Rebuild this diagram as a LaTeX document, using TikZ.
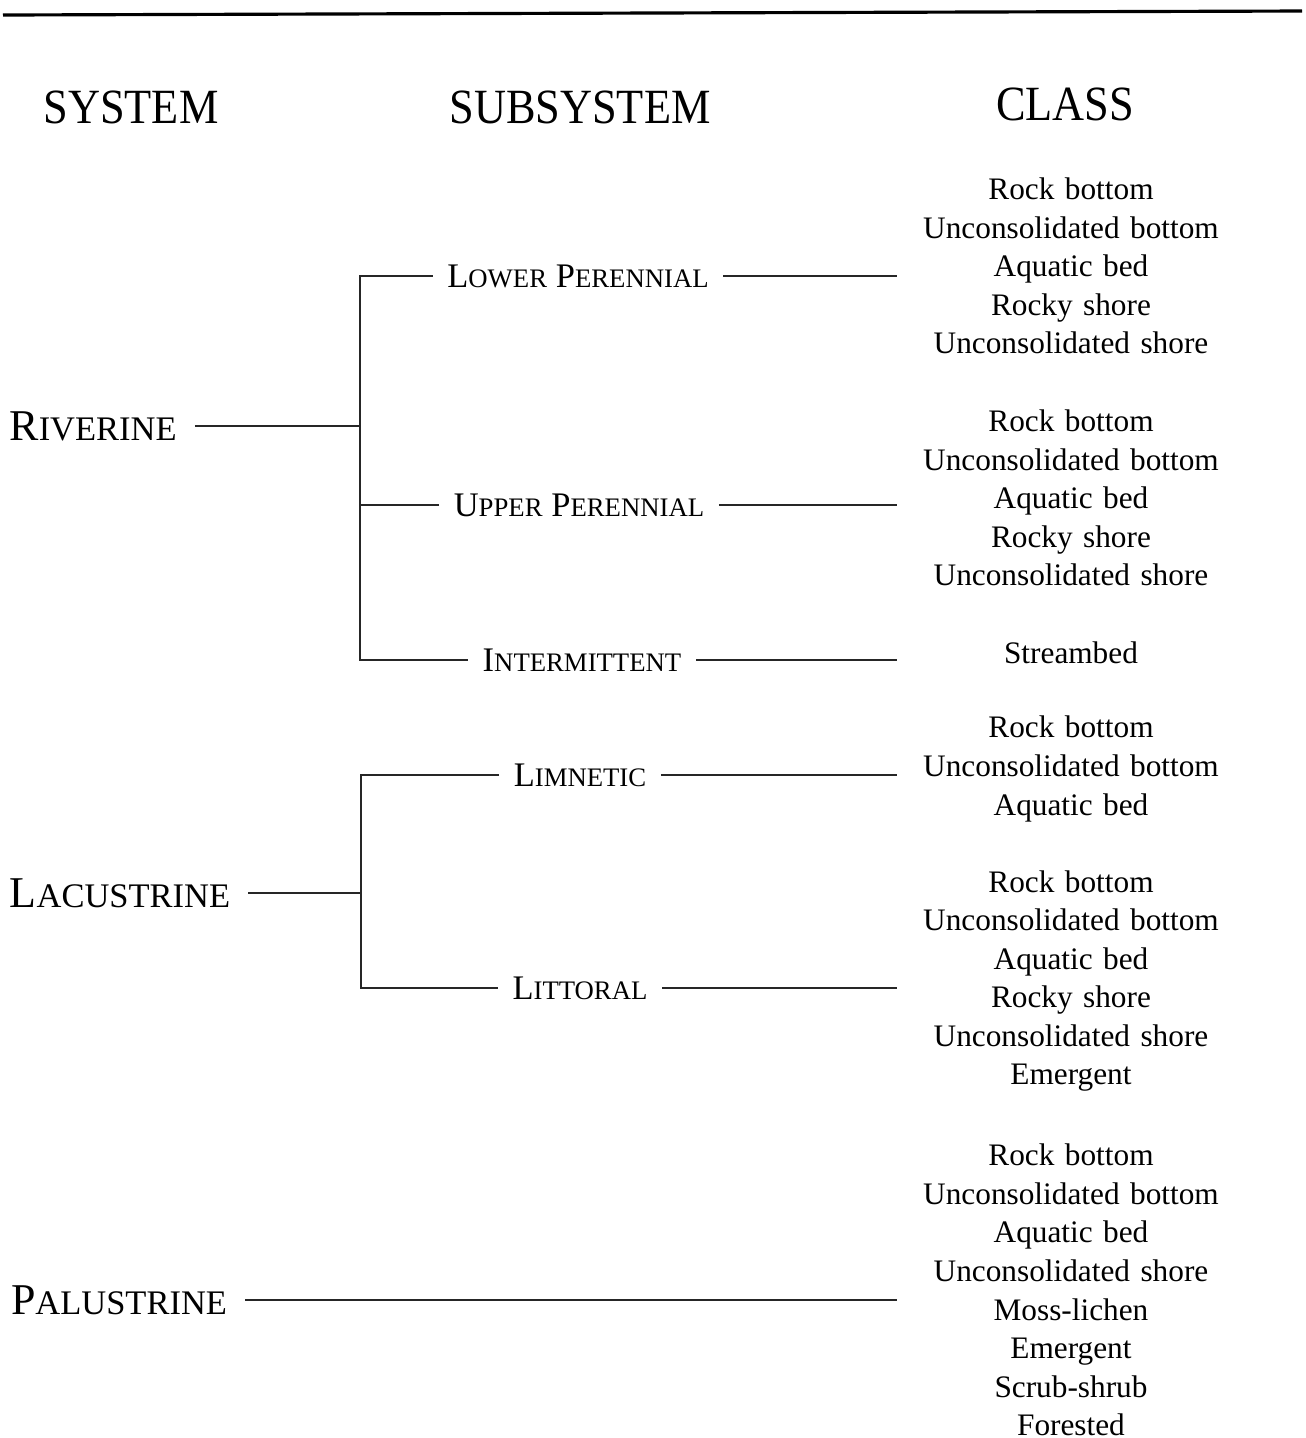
\documentclass[tikz,border=0pt]{standalone}
\usepackage{fontspec}
\usepackage{graphicx}
\setmainfont{Liberation Serif}
\usetikzlibrary{positioning}
\newcommand{\syssc}[2]{{\fontsize{12.5}{14}\selectfont #1}{\fontsize{9.8}{12}\selectfont #2}}
\newcommand{\subsc}[2]{{\fontsize{9.8}{12}\selectfont #1}{\fontsize{7.6}{10}\selectfont #2}}
\newcommand{\colhead}[1]{\scalebox{0.9}[1]{\fontsize{14}{16}\selectfont #1}}
\tikzset{
  sysname/.style={inner xsep=5pt, inner ysep=2pt},
  subname/.style={inner xsep=4pt, inner ysep=2pt},
  clslist/.style={align=center, text width=3.2cm, inner xsep=3.7pt, inner ysep=0pt,
    font=\fontsize{8.9}{10.97}\selectfont},
  link/.style={line width=0.8pt, draw=black!85}
}
\begin{document}
\begin{tikzpicture}[x=0.01cm, y=-0.01cm]
  \useasboundingbox (0,0) rectangle (1306,1438);
  \draw[line width=0.9pt] (3,15) -- (1302,11);
  % column heads
  \node (hsys) at (131,107) {\colhead{SYSTEM}};
  \node (hsub) at (580,107) {\colhead{SUBSYSTEM}};
  \node (hcls) at (1065,104) {\colhead{CLASS}};
  % systems
  \node[sysname] (riv) at (93,426) {\syssc{R}{IVERINE}};
  \node[sysname] (lac) at (120,893) {\syssc{L}{ACUSTRINE}};
  \node[sysname] (pal) at (119,1300) {\syssc{P}{ALUSTRINE}};
  % subsystems
  \node[subname] (lowper) at (578,276) {\subsc{L}{OWER} \subsc{P}{ERENNIAL}};
  \node[subname] (upper) at (579,505) {\subsc{U}{PPER} \subsc{P}{ERENNIAL}};
  \node[subname] (intm) at (582,660) {\subsc{I}{NTERMITTENT}};
  \node[subname] (limn) at (580,775) {\subsc{L}{IMNETIC}};
  \node[subname] (litt) at (580,988) {\subsc{L}{ITTORAL}};
  % classes
  \node[clslist] (clslow) at (1071,266) {Rock bottom\\Unconsolidated bottom\\Aquatic bed\\Rocky shore\\Unconsolidated shore};
  \node[clslist] (clsup) at (1071,498) {Rock bottom\\Unconsolidated bottom\\Aquatic bed\\Rocky shore\\Unconsolidated shore};
  \node[clslist] (clsint) at (1071,653) {Streambed};
  \node[clslist] (clslim) at (1071,769) {Rock bottom\\Unconsolidated bottom\\Aquatic bed};
  \node[clslist] (clslit) at (1071,981) {Rock bottom\\Unconsolidated bottom\\Aquatic bed\\Rocky shore\\Unconsolidated shore\\Emergent};
  \node[clslist] (clspal) at (1071,1290) {Rock bottom\\Unconsolidated bottom\\Aquatic bed\\Unconsolidated shore\\Moss-lichen\\Emergent\\Scrub-shrub\\Forested};
  \coordinate (rivfork) at (360,427);
  \coordinate (lacfork) at (361,899);
  % riverine tree
  \draw[link] (riv.east) -- (riv.east -| rivfork);
  \draw[link] (lowper.west) -- (lowper.west -| rivfork) -- (intm.west -| rivfork) -- (intm.west);
  \draw[link] (upper.west) -- (upper.west -| rivfork);
  \draw[link] (lowper.east) -- (lowper.east -| clslow.west);
  \draw[link] (upper.east) -- (upper.east -| clsup.west);
  \draw[link] (intm.east) -- (intm.east -| clsint.west);
  % lacustrine tree
  \draw[link] (lac.east) -- (lac.east -| lacfork);
  \draw[link] (limn.west) -- (limn.west -| lacfork) -- (litt.west -| lacfork) -- (litt.west);
  \draw[link] (limn.east) -- (limn.east -| clslim.west);
  \draw[link] (litt.east) -- (litt.east -| clslit.west);
  % palustrine
  \draw[link] (pal.east) -- (pal.east -| clspal.west);
\end{tikzpicture}
\end{document}
